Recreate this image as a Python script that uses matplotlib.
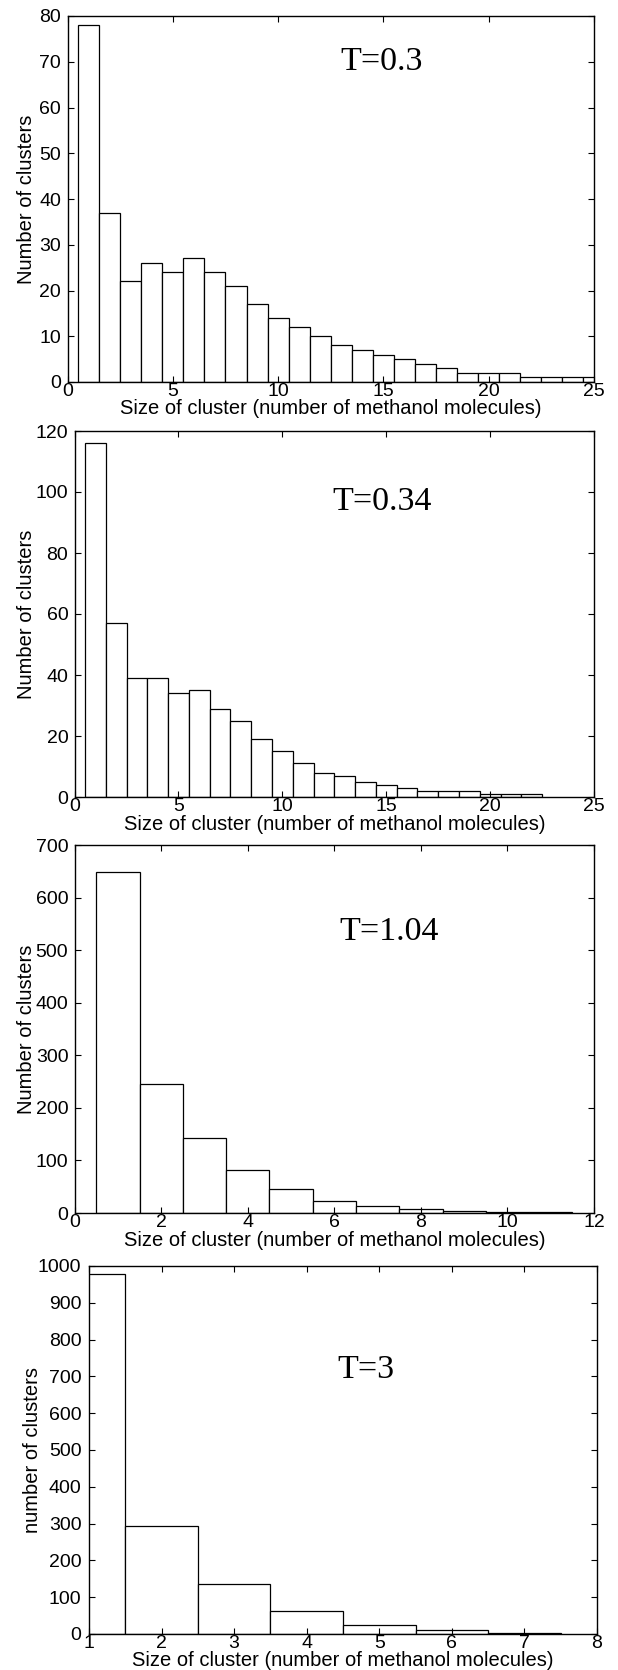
import matplotlib
matplotlib.use("Agg")
import matplotlib.pyplot as plt

# cluster size histograms at four temperatures
sizes_t03 = list(range(1, 26))
counts_t03 = [78, 37, 22, 26, 24, 27, 24, 21, 17, 14, 12, 10, 8, 7, 6, 5, 4, 3, 2, 2, 2, 1, 1, 1, 1]

sizes_t034 = list(range(1, 23))
counts_t034 = [116, 57, 39, 39, 34, 35, 29, 25, 19, 15, 11, 8, 7, 5, 4, 3, 2, 2, 2, 1, 1, 1]

sizes_t104 = list(range(1, 12))
counts_t104 = [648, 245, 142, 82, 45, 23, 13, 7, 4, 2, 1]

sizes_t3 = list(range(1, 8))
counts_t3 = [977, 293, 137, 62, 25, 10, 3]

labels = ["T=0.3", "T=0.34", "T=1.04", "T=3"]
ylabels = ["Number of clusters", "Number of clusters", "Number of clusters", "number of clusters"]
xlabel = "Size of cluster (number of methanol molecules)"

W, H = 618, 1670
SANS = "Liberation Sans"
SERIF = "Liberation Serif"

# panel: (left, right, top, bottom) in px, xlim, xticks, yticks, text pos, ylabel x px, xlabel y px
panels = [
    (sizes_t03, counts_t03, (67.5, 594, 16, 382), (0, 25), range(0, 26, 5), range(0, 81, 10),
     (0.596, 0.875), 26, 408),
    (sizes_t034, counts_t034, (74.6, 594, 431, 797), (0, 25), range(0, 26, 5), range(0, 121, 20),
     (0.592, 0.806), 26, 824),
    (sizes_t104, counts_t104, (74.6, 594, 845, 1213), (0, 12), range(0, 13, 2), range(0, 701, 100),
     (0.606, 0.764), 26, 1240),
    (sizes_t3, counts_t3, (89, 597, 1266, 1634), (1, 8), range(1, 9), range(0, 1001, 100),
     (0.546, 0.717), 33, 1660),
]

fig = plt.figure(figsize=(W / 100, H / 100), dpi=100)

for i, (xs, ys, box, xlim, xt, yt, tpos, ylx, xly) in enumerate(panels):
    l, r, t, b = box
    ax = fig.add_axes([l / W, 1 - b / H, (r - l) / W, (b - t) / H])
    ax.bar(xs, ys, width=1.0, align="center", facecolor="white",
           edgecolor="black", linewidth=0.9)
    ax.set_xlim(*xlim)
    ax.set_ylim(0, yt[-1])
    ax.set_xticks(list(xt))
    ax.set_yticks(list(yt))
    ax.tick_params(direction="in", top=True, right=True, length=4, width=0.8,
                   labelsize=14)
    ax.tick_params(axis="x", pad=1)
    ax.tick_params(axis="y", pad=4.5 if i < 3 else 5.5)
    for lab in ax.get_xticklabels() + ax.get_yticklabels():
        lab.set_fontfamily(SANS)
    for sp in ax.spines.values():
        sp.set_linewidth(1.0)

    ax.set_xlabel(xlabel, fontsize=14.5, family=SANS, va="center")
    ax.xaxis.set_label_coords(0.5, (b - xly) / (b - t))
    ax.set_ylabel(ylabels[i], fontsize=14.5, family=SANS, va="center")
    ax.yaxis.set_label_coords((ylx - l) / (r - l), 0.5)

    ax.text(tpos[0], tpos[1], labels[i], transform=ax.transAxes, ha="center",
            va="center", fontsize=24.5, family=SERIF)

fig.savefig("out.png", dpi=100)
